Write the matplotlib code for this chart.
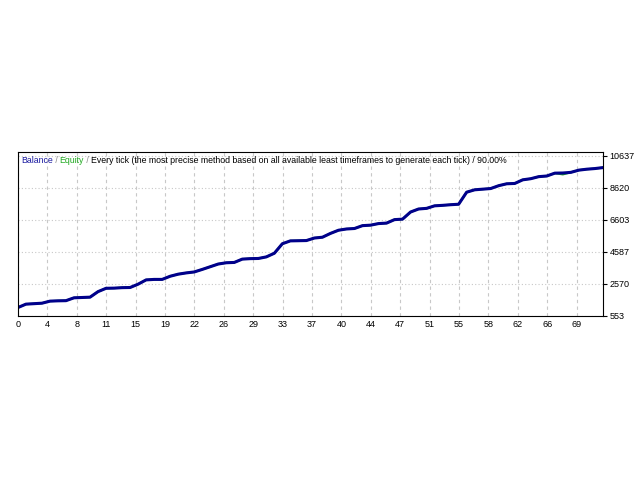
import matplotlib
matplotlib.use('Agg')
import matplotlib.pyplot as plt

# Balance per closed trade
balance = [1076, 1290, 1320, 1350, 1480, 1500, 1510, 1690, 1710, 1730,
           2080, 2290, 2300, 2330, 2340, 2550, 2820, 2850, 2850, 3050,
           3180, 3260, 3320, 3480, 3650, 3820, 3900, 3920, 4130, 4160,
           4170, 4270, 4500, 5100, 5280, 5290, 5300, 5460, 5510, 5750,
           5950, 6030, 6060, 6240, 6270, 6370, 6400, 6620, 6650, 7100,
           7290, 7330, 7490, 7520, 7560, 7590, 8350, 8500, 8540, 8580,
           8760, 8880, 8900, 9130, 9200, 9330, 9370, 9550, 9560, 9600,
           9740, 9800, 9840, 9900]
equity = list(balance)
equity[68] = 9470   # small visible dip of equity

x_labels = ['0', '4', '8', '11', '15', '19', '22', '26', '29', '33', '37',
            '40', '44', '47', '51', '55', '58', '62', '66', '69']
y_ticks = [553, 2570, 4587, 6603, 8620, 10637]

plt.rcParams['font.family'] = ['Liberation Sans', 'DejaVu Sans']

fig = plt.figure(figsize=(6.4, 4.8), dpi=100)
ax = fig.add_axes([0.028, 0.342, 0.914, 0.342])

trades = list(range(len(balance)))
ax.plot(trades, equity, color='#22aa22', lw=1.5)
ax.plot(trades, balance, color='#00008b', lw=2.2)

step = 3.67
ax.set_xlim(0, len(balance) - 1)
ax.set_ylim(553, 10904)
ax.set_xticks([i * step for i in range(len(x_labels))])
ax.set_xticklabels(x_labels, fontsize=6.5)
ax.set_yticks(y_ticks)
ax.set_yticklabels([str(v) for v in y_ticks], fontsize=6.5)
ax.yaxis.tick_right()
ax.tick_params(axis='x', length=0, pad=3)
ax.tick_params(axis='y', length=3, width=0.8, pad=2)

ax.xaxis.grid(True, color='#c8c8c8', linestyle=(0, (3, 3)), lw=0.8)
ax.yaxis.grid(True, color='#c8c8c8', linestyle=(0, (1, 2)), lw=0.8)
for s in ax.spines.values():
    s.set_linewidth(0.8)

# multi coloured caption
parts = [('Balance', '#1a1aa0'), (' / ', '#888888'), ('Equity', '#22aa22'),
         (' / ', '#888888'),
         ('Every tick (the most precise method based on all available least '
          'timeframes to generate each tick)', '#000000'),
         (' / 90.00%', '#000000')]
prev = ax.text(0.005, 0.975, parts[0][0], color=parts[0][1], fontsize=6.3,
               transform=ax.transAxes, ha='left', va='top')
for txt, col in parts[1:]:
    prev = ax.annotate(txt, xy=(1, 0), xycoords=prev, color=col,
                       fontsize=6.3, ha='left', va='bottom')

fig.savefig('out.png', dpi=100, facecolor='white')
